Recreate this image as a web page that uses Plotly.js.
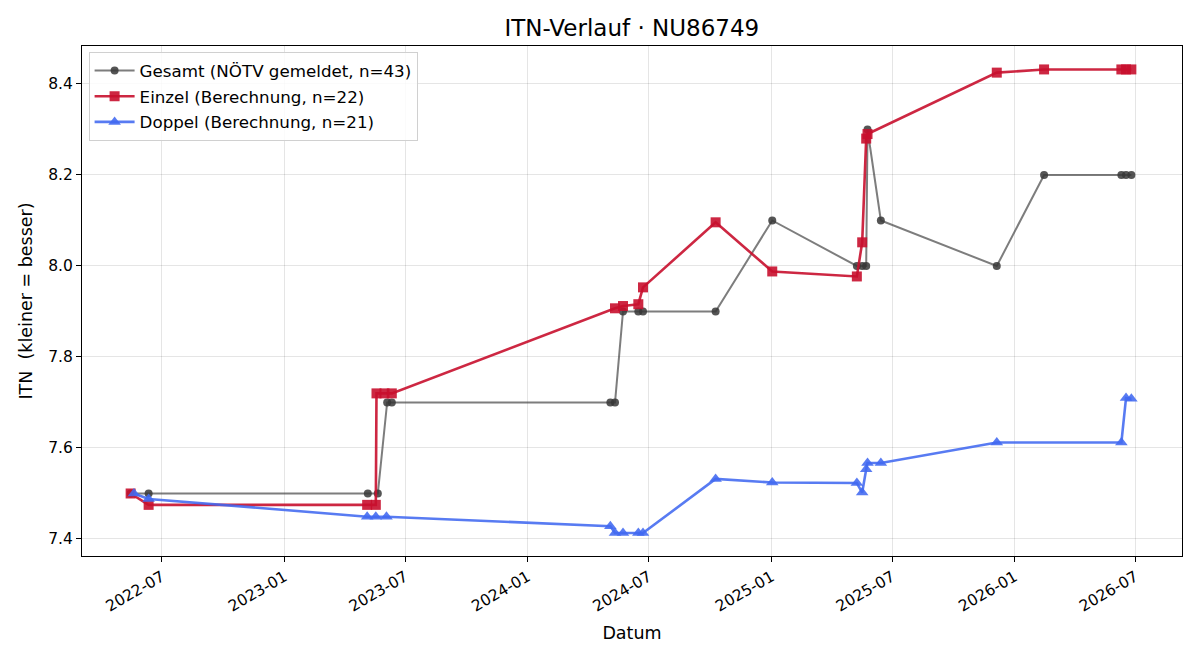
<!DOCTYPE html>
<html>
<head>
<meta charset="utf-8">
<script src="https://cdn.plot.ly/plotly-3.0.1.min.js"></script>
<style>html,body{margin:0;padding:0;background:#fff;}#chart{width:1200px;height:660px;}</style>
</head>
<body>
<div id="chart"></div>
<script>
const gesamtDates = ['2022-05-15','2022-06-11','2023-05-06','2023-05-21','2023-06-04','2023-06-11','2024-05-04','2024-05-11','2024-05-23','2024-06-15','2024-06-22','2024-10-09','2025-01-02','2025-05-09','2025-05-17','2025-05-23','2025-05-25','2025-06-14','2025-12-05','2026-02-14','2026-06-10','2026-06-17','2026-06-25'];
const gesamtValues = [7.5,7.5,7.5,7.5,7.7,7.7,7.7,7.7,7.9,7.9,7.9,7.9,8.1,8.0,8.0,8.0,8.3,8.1,8.0,8.2,8.2,8.2,8.2];

const einzelDates = ['2022-05-15','2022-06-11','2023-05-05','2023-05-18','2023-05-19','2023-05-31','2023-06-11','2024-05-11','2024-05-23','2024-06-15','2024-06-22','2024-10-09','2025-01-02','2025-05-09','2025-05-17','2025-05-23','2025-05-25','2025-12-05','2026-02-14','2026-06-10','2026-06-17','2026-06-25'];
const einzelValues = [7.5,7.475,7.475,7.475,7.72,7.72,7.72,7.907,7.912,7.916,7.953,8.096,7.988,7.977,8.052,8.28,8.29,8.425,8.432,8.432,8.432,8.432];

const doppelDates = ['2022-05-20','2022-06-11','2023-05-05','2023-05-18','2023-06-03','2024-05-04','2024-05-11','2024-05-23','2024-06-15','2024-06-22','2024-10-09','2025-01-02','2025-05-09','2025-05-17','2025-05-23','2025-05-25','2025-06-14','2025-12-05','2026-06-10','2026-06-17','2026-06-25'];
const doppelValues = [7.5,7.488,7.449,7.449,7.449,7.428,7.413,7.413,7.413,7.413,7.532,7.524,7.523,7.502,7.553,7.567,7.567,7.612,7.612,7.71,7.708];

const seriesNames = ['Gesamt (NÖTV gemeldet, n=43)','Einzel (Berechnung, n=22)','Doppel (Berechnung, n=21)'];
const xTickVals = ['2022-07-01','2023-01-01','2023-07-01','2024-01-01','2024-07-01','2025-01-01','2025-07-01','2026-01-01','2026-07-01'];
const xTickText = ['2022-07','2023-01','2023-07','2024-01','2024-07','2025-01','2025-07','2026-01','2026-07'];
const yTickVals = [7.4,7.6,7.8,8.0,8.2,8.4];
const yTickText = ['7.4','7.6','7.8','8.0','8.2','8.4'];

const font = 'DejaVu Sans, sans-serif';

const traces = [
  {x: gesamtDates, y: gesamtValues, name: seriesNames[0], legendgroup: 'g1', type: 'scatter', mode: 'lines+markers',
   line: {color: 'rgba(70,70,70,0.7)', width: 2},
   marker: {symbol: 'circle', size: 8, color: 'rgba(55,55,55,0.85)', line: {width: 0}}},
  {x: einzelDates, y: einzelValues, name: seriesNames[1], legendgroup: 'g2', type: 'scatter', mode: 'lines+markers',
   line: {color: 'rgba(200,16,46,0.9)', width: 2.6},
   marker: {symbol: 'square', size: 10, color: 'rgba(200,16,46,0.9)', line: {width: 0}}},
  {x: doppelDates, y: doppelValues, name: seriesNames[2], legendgroup: 'g3', type: 'scatter', mode: 'lines+markers',
   line: {color: 'rgba(65,105,240,0.88)', width: 2.6},
   marker: {symbol: 'triangle-up', size: 11, color: 'rgba(65,105,240,0.88)', line: {width: 0}}}
];

const layout = {
  width: 1200, height: 660,
  paper_bgcolor: '#fff', plot_bgcolor: '#fff',
  margin: {l: 82, r: 18, t: 46, b: 104},
  font: {family: font, size: 15.5, color: '#000'},
  title: {text: 'ITN-Verlauf · NU86749', x: 0.5265, xanchor: 'center', y: 0.958, yanchor: 'middle', font: {family: font, size: 23, color: '#000'}},
  showlegend: true,
  legend: {x: 0.006, y: 0.988, xanchor: 'left', yanchor: 'top', bgcolor: 'rgba(255,255,255,0.85)', bordercolor: '#d0d0d0', borderwidth: 1, font: {family: font, size: 16.7, color: '#000'}, tracegroupgap: 1, itemwidth: 40},
  xaxis: {
    type: 'date', range: ['2022-03-03','2026-09-09'],
    tickmode: 'array', tickvals: xTickVals, ticktext: xTickText, tickangle: -30,
    ticks: 'outside', ticklen: 5, tickwidth: 1, tickcolor: '#000',
    showgrid: true, gridcolor: 'rgba(0,0,0,0.1)', gridwidth: 1,
    showline: true, linecolor: '#000', linewidth: 1, mirror: true,
    zeroline: false,
    tickfont: {family: font, size: 15.5, color: '#000'},
    title: {text: 'Datum', font: {family: font, size: 17.5, color: '#000'}, standoff: 12}
  },
  yaxis: {
    range: [7.3626, 8.4835], tickmode: 'array', tickvals: yTickVals, ticktext: yTickText,
    ticks: 'outside', ticklen: 5, tickwidth: 1, tickcolor: '#000',
    showgrid: true, gridcolor: 'rgba(0,0,0,0.1)', gridwidth: 1,
    showline: true, linecolor: '#000', linewidth: 1, mirror: true,
    zeroline: false,
    tickfont: {family: font, size: 15.5, color: '#000'},
    title: {text: 'ITN  (kleiner = besser)', font: {family: font, size: 17.5, color: '#000'}, standoff: 11}
  }
};

Plotly.newPlot('chart', traces, layout, {displayModeBar: false, staticPlot: true});
</script>
</body>
</html>
